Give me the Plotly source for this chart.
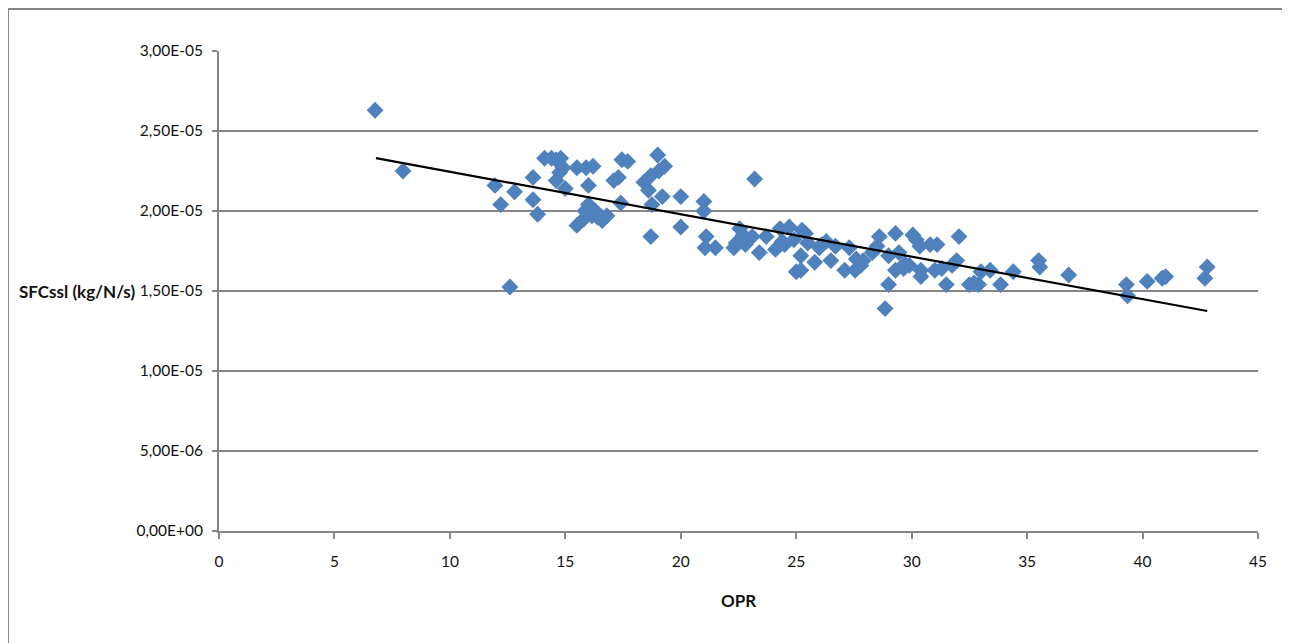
import plotly.graph_objects as go

opr = [6.76, 7.97, 11.95, 12.2, 12.8, 12.6, 13.6, 13.6, 13.8, 14.1, 14.4, 14.6, 14.8, 14.6, 14.75,
       15.0, 15.5, 15.9, 16.2, 15.5, 15.8, 15.85, 16.0, 16.0, 16.15, 16.3, 16.4, 16.6,
       17.1, 17.3, 17.45, 17.7, 17.4, 18.4, 18.6, 18.7, 18.7, 18.75, 19.0, 19.05, 19.2, 19.3,
       20.0, 20.0, 21.0, 21.0, 21.1, 21.05, 21.5, 23.2, 22.3, 22.55, 22.7, 22.9, 23.1, 23.4,
       23.7, 24.1, 24.3, 24.5, 24.7, 25.2, 25.0, 25.2, 25.25, 25.4, 25.5, 25.8, 26.0, 26.3,
       26.5, 26.7, 27.1, 27.3, 27.55, 27.8, 27.9, 28.5, 28.6, 28.85, 29.0, 29.0, 29.3, 29.3,
       29.45, 29.65, 29.9, 30.05, 30.2, 30.35, 30.4, 30.4, 30.8, 31.1, 31.0, 31.5, 31.75,
       31.95, 32.05, 32.5, 32.9, 33.0, 33.4, 33.85, 34.4, 35.5, 35.55, 36.8, 39.3, 39.35,
       40.2, 40.85, 41.0, 42.7, 42.8,
       22.4, 22.8, 24.4, 24.9, 26.1, 27.6, 29.7, 31.3, 32.7, 28.3, 16.8, 14.9]
sfc_e5 = [2.63, 2.25, 2.16, 2.04, 2.12, 1.525, 2.21, 2.07, 1.98, 2.33, 2.33, 2.32, 2.33, 2.19, 2.24,
          2.14, 2.27, 2.27, 2.28, 1.91, 1.95, 2.0, 2.04, 2.16, 1.97, 2.0, 1.96, 1.94,
          2.19, 2.21, 2.32, 2.31, 2.05, 2.18, 2.13, 2.22, 1.84, 2.04, 2.35, 2.25, 2.09, 2.28,
          2.09, 1.9, 2.06, 2.0, 1.84, 1.77, 1.77, 2.2, 1.77, 1.89, 1.85, 1.82, 1.84, 1.74,
          1.84, 1.76, 1.89, 1.79, 1.9, 1.63, 1.62, 1.72, 1.88, 1.86, 1.8, 1.68, 1.77, 1.81,
          1.69, 1.78, 1.63, 1.77, 1.63, 1.66, 1.69, 1.78, 1.84, 1.39, 1.54, 1.72, 1.86, 1.63,
          1.74, 1.64, 1.66, 1.85, 1.82, 1.78, 1.63, 1.59, 1.79, 1.79, 1.63, 1.54, 1.66,
          1.69, 1.84, 1.54, 1.54, 1.62, 1.63, 1.54, 1.62, 1.69, 1.65, 1.6, 1.54, 1.47,
          1.56, 1.58, 1.59, 1.58, 1.65,
          1.8, 1.79, 1.81, 1.82, 1.79, 1.7, 1.67, 1.64, 1.55, 1.74, 1.97, 2.27]
sfc = [v * 1e-5 for v in sfc_e5]

trend_x = [6.8, 42.8]
trend_y = [2.33e-5, 1.375e-5]

y_tickvals = [0, 5e-6, 1e-5, 1.5e-5, 2e-5, 2.5e-5, 3e-5]
y_ticktext = ["0,00E+00", "5,00E-06", "1,00E-05", "1,50E-05", "2,00E-05", "2,50E-05", "3,00E-05"]
x_tickvals = [0, 5, 10, 15, 20, 25, 30, 35, 40, 45]

FONT = "Lato, 'Open Sans', sans-serif"

fig = go.Figure()
fig.add_trace(go.Scatter(x=opr, y=sfc, mode="markers",
                         marker=dict(symbol="diamond", size=13, color="#4F81BD",
                                     line=dict(width=0)),
                         showlegend=False))
fig.add_trace(go.Scatter(x=trend_x, y=trend_y, mode="lines",
                         line=dict(color="black", width=2.2), showlegend=False))

fig.update_layout(
    width=1290, height=643,
    margin=dict(l=211, r=40, t=43, b=120),
    paper_bgcolor="white", plot_bgcolor="white",
    font=dict(family=FONT, size=15.5, color="#111"),
    xaxis=dict(range=[0, 45], tickvals=x_tickvals, showgrid=False, zeroline=False,
               showline=True, linecolor="#868686", linewidth=2,
               ticks="outside", ticklen=6, tickcolor="#868686", tickwidth=2,
               ticklabelstandoff=9, tickfont=dict(size=15.5)),
    yaxis=dict(range=[0, 3e-5], tickvals=y_tickvals, ticktext=y_ticktext,
               showgrid=True, gridcolor="#868686", gridwidth=2, zeroline=False,
               showline=True, linecolor="#868686", linewidth=2,
               ticks="outside", ticklen=5, tickcolor="#868686", tickwidth=2,
               ticklabelstandoff=6, tickfont=dict(size=15.5)),
    annotations=[
        dict(text="<b>SFCssl (kg/N/s)</b>", xref="paper", yref="y", x=-0.0789, y=1.5e-5,
             xanchor="right", yanchor="middle", showarrow=False, font=dict(size=17)),
        dict(text="<b>OPR</b>", xref="paper", yref="paper", x=0.5, y=-0.145,
             xanchor="center", yanchor="middle", showarrow=False, font=dict(size=17)),
    ],
    shapes=[
        dict(type="line", xref="paper", yref="paper", x0=-0.2031, x1=1.05, y0=1.0875, y1=1.0875,
             line=dict(color="#868686", width=2)),
        dict(type="line", xref="paper", yref="paper", x0=-0.2031, x1=-0.2031, y0=-0.25, y1=1.0875,
             line=dict(color="#868686", width=2)),
    ],
)

fig.write_html("out.html")
